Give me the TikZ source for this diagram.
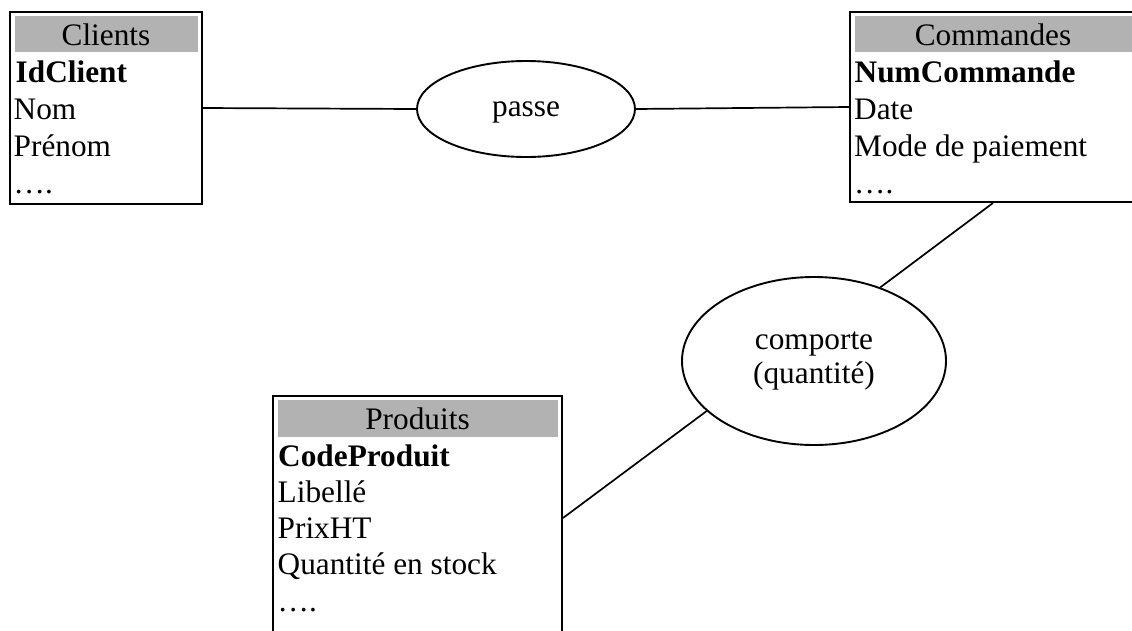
\documentclass[tikz,border=0pt]{standalone}
\usepackage{fontspec}
\setmainfont{Liberation Serif}
\usepackage{tikz}
\usetikzlibrary{shapes.geometric}

\definecolor{headgray}{RGB}{178,178,178}
\newcommand{\mcdfont}{\fontsize{31.3}{37}\selectfont}

\tikzset{
  entitybox/.style={draw, line width=1.9pt, inner sep=0pt},
  entityhead/.style={fill=headgray, inner sep=0pt, minimum height=36pt,
    text height=22pt, text depth=0pt, font=\mcdfont},
  attrib/.style={anchor=base west, inner sep=0pt, font=\mcdfont},
  keyattrib/.style={attrib, font=\mcdfont\bfseries},
  relation/.style={draw, ellipse, fill=white, line width=1.9pt, inner sep=0pt,
    align=center, font=\fontsize{31.3}{34.5}\selectfont},
  link/.style={line width=1.7pt}
}

\begin{document}
\begin{tikzpicture}[x=1pt, y=-1pt]
\path[use as bounding box, fill=white] (0,0) rectangle (1132,630);
\clip (0,0) rectangle (1132,630);

% Clients
\node[entitybox, minimum width=192pt, minimum height=192pt] (clients) at (106,108) {};
\node[entityhead, minimum width=183pt] (clientsHead) at (106,34) {Clients};
\node[keyattrib] (idclient) at (15.5,82) {IdClient};
\node[attrib] (nom) at (13.5,119) {Nom};
\node[attrib] (prenom) at (13.5,156) {Prénom};
\node[attrib] (clDots) at (13.5,193) {….};

% Commandes
\node[entitybox, minimum width=286pt, minimum height=190pt] (commandes) at (993,107) {};
\node[entityhead, minimum width=277pt] (commandesHead) at (993,34) {Commandes};
\node[keyattrib] (numcommande) at (854.5,82) {NumCommande};
\node[attrib] (date) at (854,119) {Date};
\node[attrib] (mode) at (854,156) {Mode de paiement};
\node[attrib] (cmdDots) at (854,193) {….};

% Produits
\node[entitybox, minimum width=289pt, minimum height=244pt] (produits) at (417.5,518) {};
\node[entityhead, minimum width=280pt, minimum height=37pt] (produitsHead) at (417.5,418.5) {Produits};
\node[keyattrib] (codeproduit) at (278,466) {CodeProduit};
\node[attrib] (libelle) at (277.5,502) {Libellé};
\node[attrib] (prixht) at (277.5,538.5) {PrixHT};
\node[attrib] (quantite) at (277.5,574.5) {Quantité en stock};
\node[attrib] (prDots) at (277.5,611) {….};

% associations
\node[relation, minimum width=218pt, minimum height=96pt, text depth=0pt] (passe) at (526,109) {passe};
\node[relation, minimum width=264pt, minimum height=168pt] (comporte) at (814,361) {comporte\\(quantité)};

\draw[link] (clients.east) -- (passe.west);
\draw[link] (passe.east) -- (commandes.west);
\draw[link] (commandes.south) -- (comporte.48);
\draw[link] (comporte.205.5) -- (produits.east);
\end{tikzpicture}
\end{document}
